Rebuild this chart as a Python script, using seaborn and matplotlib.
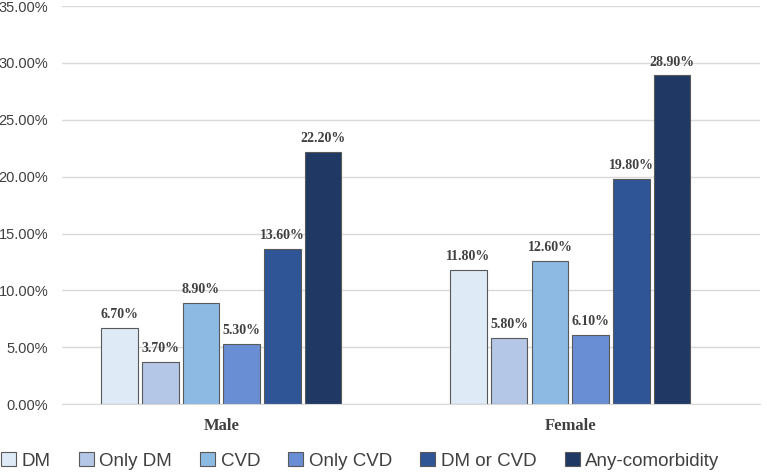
import pandas as pd
import matplotlib.pyplot as plt
import seaborn as sns
from matplotlib.ticker import FuncFormatter

groups = ['Male', 'Female']
series = ['DM', 'Only DM', 'CVD', 'Only CVD', 'DM or CVD', 'Any-comorbidity']
male = [6.7, 3.7, 8.9, 5.3, 13.6, 22.2]
female = [11.8, 5.8, 12.6, 6.1, 19.8, 28.9]
colors = ['#DEEBF7', '#B4C7E7', '#8DBAE3', '#6A8ED3', '#2F5597', '#1F3864']

rows = []
for s, m, f in zip(series, male, female):
    rows.append({'Sex': 'Male', 'Group': s, 'Value': m})
    rows.append({'Sex': 'Female', 'Group': s, 'Value': f})
df = pd.DataFrame(rows)

sns.set_style("white")
plt.rcParams['font.family'] = ['Liberation Sans', 'DejaVu Sans']

fig = plt.figure(figsize=(7.67, 4.72), dpi=100)
ax = fig.add_axes([0.081, 0.144, 0.91, 0.843])

sns.barplot(
    data=df, x='Sex', y='Value', hue='Group', order=groups, hue_order=series,
    palette=colors, saturation=1, width=0.7, gap=0.1, edgecolor='#595959',
    linewidth=0.8, ax=ax, legend=True
)

for cont in ax.containers:
    ax.bar_label(cont, labels=[f'{v:.2f}%' for v in cont.datavalues],
                 padding=5, fontsize=10, fontweight='bold',
                 family='Liberation Serif', color='#404040')

ax.set_ylim(0, 35)
ax.set_xlim(-0.456, 1.544)
ax.set_yticks(range(0, 36, 5))
ax.yaxis.set_major_formatter(FuncFormatter(lambda v, p: f'{v:.2f}%'))
ax.grid(axis='y', color='#D9D9D9', linewidth=1)
ax.set_axisbelow(True)
for sp in ['top', 'right', 'left']:
    ax.spines[sp].set_visible(False)
ax.spines['bottom'].set_color('#D9D9D9')
ax.tick_params(axis='y', length=0, labelsize=10.5, labelcolor='#404040', pad=10)
ax.tick_params(axis='x', length=0, pad=10)
for lab in ax.get_xticklabels():
    lab.set_family('Liberation Serif')
    lab.set_fontweight('bold')
    lab.set_fontsize(12)
    lab.set_color('#404040')
ax.set_xlabel('')
ax.set_ylabel('')

ax.legend(loc='center', bbox_to_anchor=(0.427, -0.143), ncol=6,
          frameon=False, fontsize=13.5, handlelength=0.8, handleheight=0.8,
          handletextpad=0.3, columnspacing=1.5, labelcolor='#404040',
          borderpad=0)

fig.savefig('out.png', dpi=100)
